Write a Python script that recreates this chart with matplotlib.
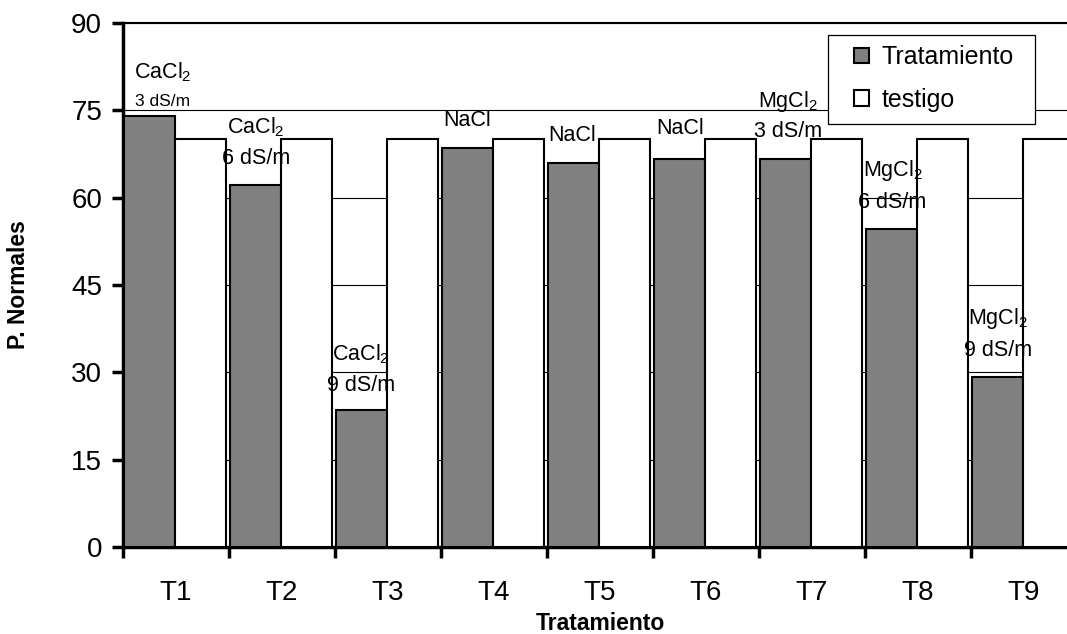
import matplotlib
matplotlib.use("Agg")
import matplotlib.pyplot as plt
import numpy as np
from matplotlib.patches import Rectangle

plt.rcParams['font.family'] = ['Liberation Sans', 'DejaVu Sans']
plt.rcParams['mathtext.fontset'] = 'custom'
plt.rcParams['mathtext.rm'] = 'Liberation Sans'
plt.rcParams['mathtext.it'] = 'Liberation Sans:italic'
plt.rcParams['mathtext.bf'] = 'Liberation Sans:bold'

# data
categorias = ["T1", "T2", "T3", "T4", "T5", "T6", "T7", "T8", "T9"]
tratamiento = [74.0, 62.1, 23.6, 68.5, 66.0, 66.6, 66.6, 54.6, 29.2]
testigo = [70, 70, 70, 70, 70, 70, 70, 70, 70]

# labels above bars: salt, dose text, salt y, dose y
sales = ["CaCl$_2$", "CaCl$_2$", "CaCl$_2$", "NaCl", "NaCl", "NaCl",
         "MgCl$_2$", "MgCl$_2$", "MgCl$_2$"]
dosis = ["3 dS/m", "6 dS/m", "9 dS/m", "", "", "", "3 dS/m", "6 dS/m", "9 dS/m"]
sal_y = [81.6, 72.1, 33.2, 73.2, 70.6, 71.8, 76.6, 64.6, 39.2]
dosis_y = [76.6, 66.8, 27.8, None, None, None, 71.3, 59.1, 33.8]
label_dx = [-0.125, -0.245, -0.255, -0.255, -0.264, -0.24, -0.23, -0.24, -0.24]

fig = plt.figure(figsize=(10.67, 6.34), dpi=100)
ax = fig.add_axes([0.1153, 0.1372, 0.894, 0.8265])

x = np.arange(len(categorias))
w = 0.48
ax.bar(x - 0.49, tratamiento, width=w, align='edge', color='#808080',
       edgecolor='black', linewidth=1.5, label='Tratamiento', zorder=3)
ax.bar(x - 0.01, testigo, width=w, align='edge', color='white',
       edgecolor='black', linewidth=1.5, label='testigo', zorder=3)

ax.set_xlim(-0.5, len(categorias) - 0.5)
ax.set_ylim(0, 90)
ax.set_yticks(np.arange(0, 91, 15))
ax.yaxis.grid(True, color='black', linewidth=0.8, zorder=0)
ax.set_axisbelow(True)

ax.set_xticks(x)
ax.set_xticklabels(categorias)
ax.set_xticks(np.arange(-0.5, len(categorias), 1), minor=True)
ax.tick_params(axis='x', which='major', length=0, pad=24, labelsize=20)
ax.tick_params(axis='x', which='minor', length=8, width=2.5, direction='out')
ax.tick_params(axis='y', length=8, width=2.5, direction='out', pad=7, labelsize=20)

for side in ['left', 'bottom']:
    ax.spines[side].set_linewidth(2.5)
ax.spines['top'].set_linewidth(1.5)
ax.spines['right'].set_visible(False)

ax.set_xlabel("Tratamiento", fontsize=16.5, fontweight='bold', labelpad=4)
ax.set_ylabel("P. Normales", fontsize=16.5, fontweight='bold', labelpad=30)

for i in range(len(categorias)):
    xc = i + label_dx[i]
    ax.text(xc, sal_y[i], sales[i], ha='center', va='center', fontsize=15.5, zorder=5)
    if dosis[i]:
        fs = 12.5 if i == 0 else 15.5
        ax.text(xc, dosis_y[i], dosis[i], ha='center', va='center', fontsize=fs, zorder=5)

# legend box
fig.patches.append(Rectangle((0.776, 0.804), 0.194, 0.141, transform=fig.transFigure,
                             facecolor='white', edgecolor='black', linewidth=0.9, zorder=4))
leg = fig.legend(loc='upper left', bbox_to_anchor=(0.782, 0.96), frameon=False,
                 fontsize=18, handlelength=0.6, handleheight=0.6, handletextpad=0.5,
                 labelspacing=0.75, borderpad=0.3)
for h in leg.legend_handles:
    h.set_linewidth(1.5)
leg.set_zorder(6)

fig.savefig("out.png", dpi=100)
